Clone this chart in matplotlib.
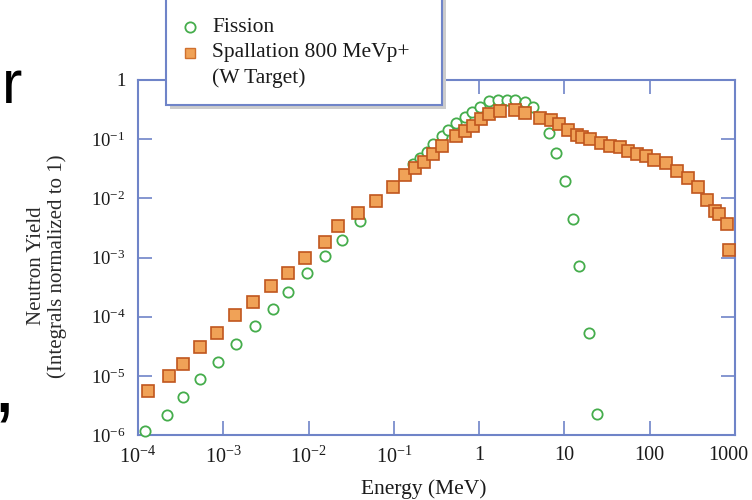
import numpy as np
import matplotlib
matplotlib.use("Agg")
import matplotlib.pyplot as plt
from matplotlib.patches import Rectangle
from matplotlib.lines import Line2D
from matplotlib.transforms import ScaledTranslation

plt.rcParams['font.family'] = ['Liberation Serif', 'DejaVu Serif']
plt.rcParams['mathtext.fontset'] = 'custom'
plt.rcParams['mathtext.rm'] = 'Liberation Serif'
plt.rcParams['mathtext.it'] = 'Liberation Serif:italic'

# log10 of energy (MeV) and yield
fission_log_e = [-3.918, -3.664, -3.469, -3.273, -3.059, -2.851, -2.628, -2.421, -2.247,
                 -2.022, -1.807, -1.612, -1.401, -0.772, -0.694, -0.615, -0.538, -0.439,
                 -0.362, -0.272, -0.166, -0.084, 0.006, 0.119, 0.224, 0.332, 0.426, 0.537,
                 0.637, 0.822, 0.901, 1.006, 1.104, 1.174, 1.284, 1.378]
fission_log_y = [-5.93, -5.66, -5.35, -5.06, -4.76, -4.47, -4.15, -3.87, -3.58,
                 -3.26, -2.97, -2.70, -2.38, -1.42, -1.32, -1.21, -1.09, -0.95,
                 -0.85, -0.73, -0.63, -0.54, -0.45, -0.36, -0.33, -0.33, -0.33, -0.37,
                 -0.46, -0.90, -1.24, -1.71, -2.35, -3.14, -4.28, -5.65]

spall_log_e = [-3.883, -3.637, -3.476, -3.273, -3.068, -2.866, -2.646, -2.435, -2.245,
               -2.042, -1.807, -1.652, -1.426, -1.210, -1.014, -0.875, -0.749, -0.643,
               -0.539, -0.436, -0.266, -0.166, -0.069, 0.022, 0.119, 0.247, 0.415, 0.543,
               0.713, 0.842, 0.940, 1.038, 1.144, 1.202, 1.305, 1.434, 1.540, 1.648,
               1.745, 1.847, 1.954, 2.056, 2.188, 2.316, 2.449, 2.562, 2.668, 2.762,
               2.816, 2.902, 2.929]
spall_log_y = [-5.25, -5.01, -4.80, -4.51, -4.27, -3.98, -3.76, -3.49, -3.26,
               -3.00, -2.73, -2.46, -2.25, -2.04, -1.80, -1.61, -1.49, -1.39,
               -1.25, -1.11, -0.95, -0.87, -0.77, -0.66, -0.58, -0.52, -0.51, -0.55,
               -0.65, -0.67, -0.74, -0.85, -0.93, -0.96, -1.00, -1.07, -1.12, -1.14,
               -1.20, -1.25, -1.28, -1.36, -1.41, -1.53, -1.66, -1.80, -2.03, -2.21,
               -2.26, -2.43, -2.87]

x_ticks = [1e-4, 1e-3, 1e-2, 1e-1, 1, 10, 100, 1000]
x_labels = ['10$^{-4}$', '10$^{-3}$', '10$^{-2}$', '10$^{-1}$', '1', '10', '100', '1000']
y_ticks = [1e-6, 1e-5, 1e-4, 1e-3, 1e-2, 1e-1, 1]
y_labels = ['10$^{-6}$', '10$^{-5}$', '10$^{-4}$', '10$^{-3}$', '10$^{-2}$', '10$^{-1}$', '1']

axis_blue = '#6f84c8'
green = '#45ad4c'
orange = '#f0a257'
orange_edge = '#c0561e'
txt = '#1a1a1a'

fig = plt.figure(figsize=(7.52, 5), dpi=100)
ax = fig.add_axes([138/752, 1-435/500, 597/752, 355/500])

ax.plot(10**np.array(fission_log_e), 10**np.array(fission_log_y), 'o', ms=7.4,
        mfc='white', mec=green, mew=1.3, clip_on=False, zorder=3)
ax.plot(10**np.array(spall_log_e), 10**np.array(spall_log_y), 's', ms=8,
        mfc=orange, mec=orange_edge, mew=1.2, clip_on=False, zorder=4)

ax.set_xscale('log')
ax.set_yscale('log')
ax.set_xlim(1e-4, 1000)
ax.set_ylim(1e-6, 1)
ax.set_xticks(x_ticks)
ax.set_xticklabels(x_labels)
ax.set_yticks(y_ticks)
ax.set_yticklabels(y_labels)
ax.minorticks_off()
ax.tick_params(direction='in', length=10, width=1.2, color=axis_blue,
               top=True, right=True, labelcolor=txt)
ax.tick_params(axis='x', pad=8, labelsize=14.5)
ax.tick_params(axis='y', pad=9, labelsize=13.5)
for s in ax.spines.values():
    s.set_color(axis_blue)
    s.set_linewidth(1.5)
# "1000" sits a bit left of its tick in the picture
last = ax.get_xticklabels()[-1]
last.set_transform(last.get_transform() + ScaledTranslation(-7/100, 0, fig.dpi_scale_trans))

fig.text(424/752, 1-489/500, 'Energy (MeV)', ha='center', va='center', fontsize=15.5,
         color=txt)
fig.text(47/752, 1-266/500, 'Neutron Yield\n(Integrals normalized to 1)', ha='center',
         va='center', rotation=90, fontsize=15, color='#2a2a2a', multialignment='center',
         linespacing=1.15)

# legend box (sticks out above the axes)
fig.add_artist(Rectangle((170/752, 1-109/500), 276/752, 109/500, transform=fig.transFigure,
                         facecolor='#cccccc', edgecolor='none', zorder=9))
fig.add_artist(Rectangle((166/752, 1-105/500), 276/752, 108/500, transform=fig.transFigure,
                         facecolor='white', edgecolor=axis_blue, lw=1.5, zorder=10))
fig.add_artist(Line2D([190/752], [1-27/500], transform=fig.transFigure, marker='o', ms=7.4,
                      mfc='white', mec=green, mew=1.3, zorder=11))
fig.add_artist(Line2D([190/752], [1-53/500], transform=fig.transFigure, marker='s', ms=7.8,
                      mfc=orange, mec='#d0702e', mew=1.0, zorder=11))
fig.text(212/752, 1-27/500, 'Fission', va='center', fontsize=15.5, color=txt, zorder=12)
fig.text(212/752, 1-53/500, 'Spallation 800 MeVp+', va='center', fontsize=15.5,
         color=txt, zorder=12)
fig.text(212/752, 1-78/500, '(W Target)', va='center', fontsize=15.5, color=txt,
         zorder=12)

# leftovers of slide text at the left edge
fig.text(2/752, 1-103/500, 'r', fontsize=44, family='Liberation Sans', va='baseline')
fig.text(-8/752, 1-412/500, ',', fontsize=60, family='Liberation Sans', va='baseline')

fig.savefig('out.png', dpi=100)
